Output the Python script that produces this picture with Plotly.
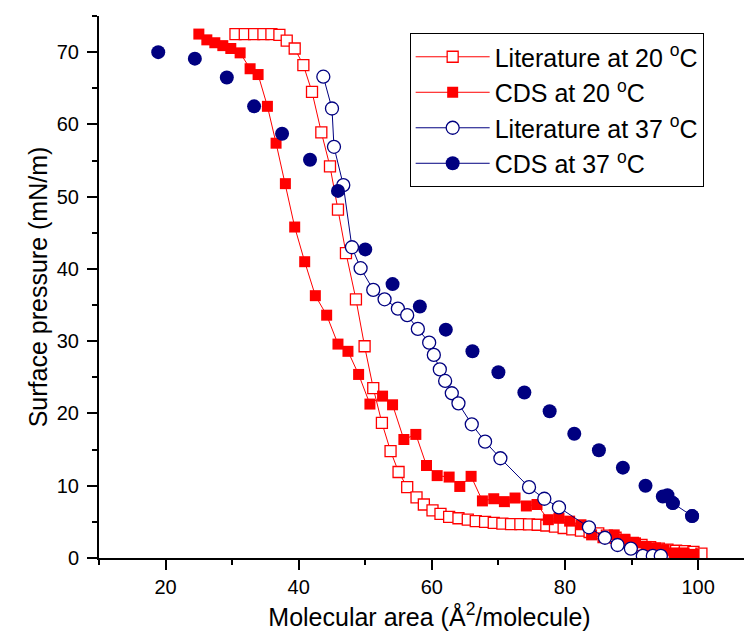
import plotly.graph_objects as go

# Literature at 20 °C
lit20_x = [30.5, 31.9, 33.3, 34.7, 35.9, 37.1, 38.2, 39.4, 40.7, 42.0, 43.4, 44.7, 45.9, 47.1,
           48.6, 49.9, 51.2, 52.5, 53.8, 55.0, 56.3, 57.7, 58.8, 60.1, 61.3, 62.6, 64.0, 65.4,
           66.6, 68.0, 69.3, 70.6, 71.9, 73.3, 74.6, 75.9, 77.2, 78.5, 79.8, 81.1, 82.4, 83.7,
           85.0, 86.3, 87.6, 88.9, 90.2, 91.5, 92.8, 94.1, 95.4, 96.7, 98.0, 99.3, 100.5]
lit20_y = [72.5, 72.5, 72.5, 72.5, 72.5, 72.4, 71.6, 70.5, 68.2, 64.5, 58.9, 54.2, 48.2, 42.2,
           35.8, 29.3, 23.5, 18.7, 14.8, 11.9, 9.8, 8.4, 7.4, 6.6, 6.1, 5.7, 5.5, 5.3,
           5.1, 5.0, 4.85, 4.75, 4.7, 4.7, 4.65, 4.6, 4.5, 4.35, 4.15, 3.95, 3.8, 3.6,
           3.4, 3.1, 2.8, 2.5, 2.1, 1.8, 1.5, 1.3, 1.15, 1.0, 0.95, 0.85, 0.6]

# CDS at 20 °C
cds20_x = [25.0, 26.2, 27.4, 28.6, 29.8, 31.2, 32.7, 33.9, 35.3, 36.6, 38.0, 39.4, 40.9, 42.5,
           44.2, 45.9, 47.4, 49.0, 50.7, 52.6, 54.1, 55.8, 57.6, 59.2, 60.8, 62.6, 64.2, 65.9,
           67.6, 69.3, 70.9, 72.5, 74.2, 75.8, 77.5, 79.1, 80.7, 82.4, 84.0, 85.7, 87.4, 89.0,
           90.6, 92.2, 93.6, 94.9, 96.4, 97.9, 99.4]
cds20_y = [72.5, 71.7, 71.3, 70.9, 70.5, 69.9, 67.7, 66.9, 62.5, 57.4, 51.8, 45.8, 41.0, 36.3,
           33.6, 29.6, 28.6, 25.4, 21.3, 22.4, 21.2, 16.4, 17.1, 12.8, 11.4, 11.2, 9.9, 11.3,
           7.9, 8.2, 7.8, 8.3, 7.2, 7.4, 5.3, 5.5, 5.1, 4.6, 3.2, 2.8, 3.2, 2.5,
           2.1, 1.6, 1.4, 1.15, 0.7, 0.7, 0.5]

# Literature at 37 °C
lit37_x = [43.7, 45.0, 45.3, 46.7, 48.0, 49.3, 51.2, 52.9, 54.9, 56.3, 57.9, 59.6, 60.3, 61.2,
           62.0, 63.0, 64.0, 66.0, 68.0, 70.3, 74.6, 76.9, 79.1, 83.6, 86.0, 87.9, 89.9, 91.7,
           93.2, 94.4]
lit37_y = [66.6, 62.2, 56.9, 51.6, 43.0, 40.1, 37.1, 35.8, 34.5, 33.6, 31.7, 29.8, 28.1, 26.1,
           24.5, 22.8, 21.4, 18.5, 16.1, 13.8, 9.8, 8.2, 7.0, 4.25, 2.8, 1.8, 1.3, 0.3,
           0.3, 0.3]

# CDS at 37 °C
cds37_x = [18.9, 24.4, 29.2, 33.3, 37.5, 41.7, 45.9, 50.0, 54.1, 58.2, 62.1, 66.1, 70.0, 73.9,
           77.7, 81.4, 85.1, 88.7, 92.1, 94.7, 95.4, 96.2, 99.1]
cds37_y = [70.0, 69.1, 66.5, 62.5, 58.7, 55.1, 50.8, 42.7, 37.9, 34.8, 31.6, 28.6, 25.7, 22.9,
           20.3, 17.2, 14.9, 12.5, 10.0, 8.5, 8.7, 7.6, 5.8]

names = ["Literature at 20 <sup>o</sup>C", "CDS at 20 <sup>o</sup>C",
         "Literature at 37 <sup>o</sup>C", "CDS at 37 <sup>o</sup>C"]

RED = "#FF0000"
NAVY = "#000080"
FONT = "Liberation Sans, Arial, sans-serif"

fig = go.Figure()
fig.add_trace(go.Scatter(
    x=lit20_x, y=lit20_y, mode="lines+markers", name=names[0],
    line=dict(color=RED, width=1),
    marker=dict(symbol="square", size=11, color="white", line=dict(color=RED, width=1.3))))
fig.add_trace(go.Scatter(
    x=cds20_x, y=cds20_y, mode="lines+markers", name=names[1],
    line=dict(color=RED, width=1),
    marker=dict(symbol="square", size=11, color=RED, line=dict(width=0))))
fig.add_trace(go.Scatter(
    x=lit37_x, y=lit37_y, mode="lines+markers", name=names[2],
    line=dict(color=NAVY, width=1),
    marker=dict(symbol="circle", size=13, color="white", line=dict(color=NAVY, width=1.3))))
fig.add_trace(go.Scatter(
    x=cds37_x, y=cds37_y, mode="markers", name=names[3], showlegend=False,
    legendgroup="cds37",
    marker=dict(symbol="circle", size=14, color=NAVY, line=dict(width=0))))
fig.add_trace(go.Scatter(
    x=cds37_x[-2:], y=cds37_y[-2:], mode="lines+markers", name=names[3],
    legendgroup="cds37",
    line=dict(color=NAVY, width=1),
    marker=dict(symbol="circle", size=14, color=NAVY, line=dict(width=0))))

axis_common = dict(
    showline=True, linecolor="black", linewidth=2, mirror=False,
    ticks="outside", ticklen=10, tickwidth=2, tickcolor="black",
    showgrid=False, zeroline=False,
    tickfont=dict(family=FONT, size=20, color="black"),
)

fig.update_xaxes(
    range=[10, 109.3], tick0=0, dtick=20,
    minor=dict(ticks="outside", ticklen=5, tickwidth=2, tickcolor="black", dtick=10, tick0=0, showgrid=False),
    title=dict(text="Molecular area (Å<sup>2</sup>/molecule)",
               font=dict(family=FONT, size=25, color="black"), standoff=11),
    **axis_common)
fig.update_yaxes(
    range=[0, 75], tick0=0, dtick=10,
    minor=dict(ticks="outside", ticklen=5, tickwidth=2, tickcolor="black", dtick=5, tick0=0, showgrid=False),
    title=dict(text="Surface pressure (mN/m)",
               font=dict(family=FONT, size=25, color="black"), standoff=2),
    ticklabelstandoff=4,
    **axis_common)

fig.update_layout(
    width=752, height=635,
    margin=dict(l=91, r=0, t=8, b=85),
    paper_bgcolor="white", plot_bgcolor="white",
    font=dict(family=FONT, color="black"),
    legend=dict(
        x=0.47, y=0.9686, xanchor="left", yanchor="top",
        bgcolor="white", bordercolor="black", borderwidth=1,
        font=dict(family=FONT, size=25, color="black"),
        itemwidth=74, tracegroupgap=0,
    ),
    showlegend=True,
)

fig.write_html("out.html")
